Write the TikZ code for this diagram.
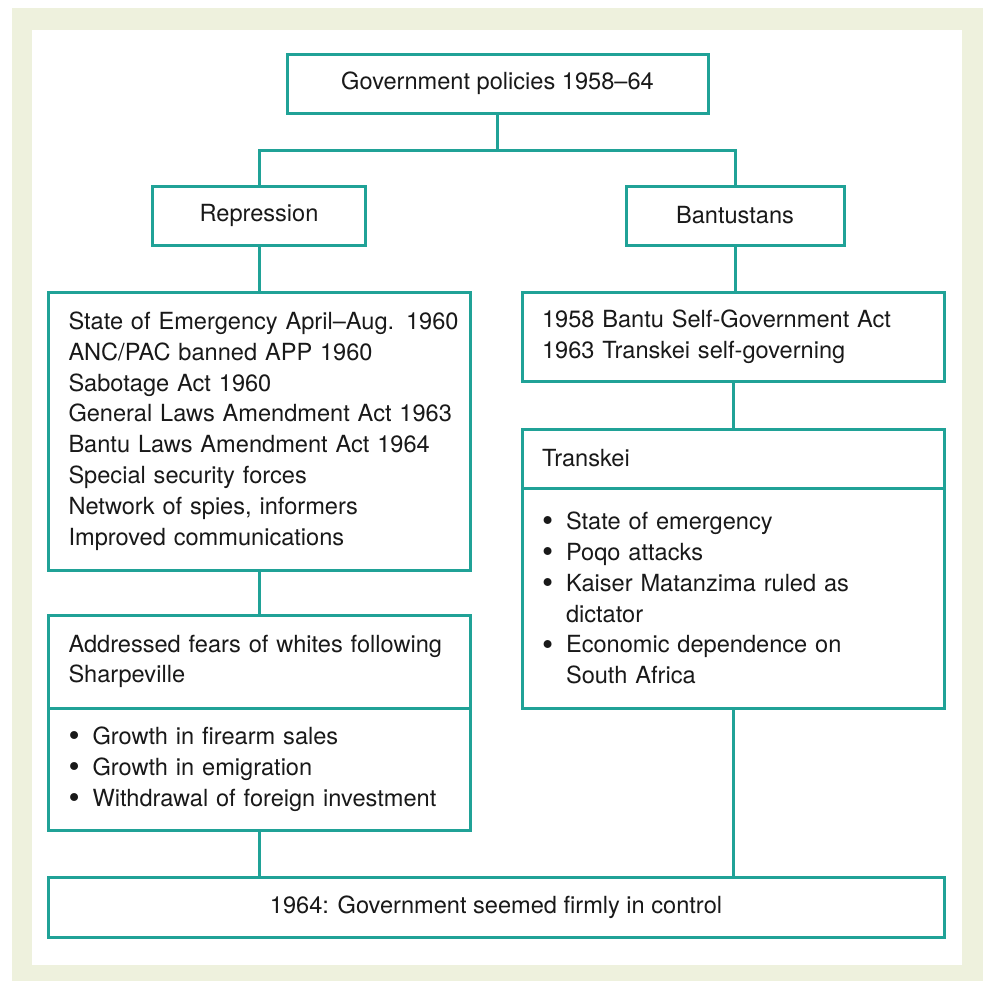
\documentclass[tikz,border=0pt]{standalone}
\usepackage{fontspec}
\usepackage{graphicx}
\setmainfont{TeX Gyre Heros}
\usetikzlibrary{positioning}

\definecolor{boxline}{RGB}{32,162,151}
\definecolor{panelbg}{RGB}{238,241,221}
\definecolor{txt}{RGB}{25,25,25}
\newcommand{\blt}{\makebox[12pt][l]{\raisebox{-0.1em}{\scalebox{1.35}{\textbullet}}}}
\newcommand{\cnt}{\hspace*{12pt}}

\begin{document}
\begin{tikzpicture}[x=0.5pt, y=-0.5pt,
  box/.style={draw=boxline, line width=1.5pt, fill=white, text=txt, outer sep=0pt,
    inner xsep=10pt, inner ysep=0pt, minimum height=29.5pt,
    font=\fontsize{11.8}{15.4}\selectfont},
  listbox/.style={box, text width=191pt, align=left},
  link/.style={draw=boxline, line width=1.5pt}]
\useasboundingbox (0,0) rectangle (983,981);
% page and panel
\fill[panelbg] (12,8) rectangle (983,981);
\fill[white] (32,30) rectangle (962,965);

% top
\node[box, minimum width=210.5pt] (gov) at (497.5,83.5) {Government policies 1958--64};
\node[box, minimum width=106.5pt] (rep) at (259,215.5) {Repression};
\node[box, minimum width=109pt] (bant) at (735,215.5) {Bantustans};

% left column
\node[listbox, minimum height=139pt] (emerg) at (259.5,431) {\mbox{State of Emergency April--Aug. 1960}\\
ANC/PAC banned APP 1960\\
Sabotage Act 1960\\
\mbox{General Laws Amendment Act 1963}\\
Bantu Laws Amendment Act 1964\\
Special security forces\\
Network of spies, informers\\
Improved communications};
\node[listbox, minimum height=46.5pt] (fearsHead) at (259.5,661.5) {\mbox{Addressed fears of whites following}\\
Sharpeville};
\node[listbox, minimum height=61pt, below=0pt of fearsHead] (fearsBody) {\blt Growth in firearm sales\\
\blt Growth in emigration\\
\blt \mbox{Withdrawal of foreign investment}};

% right column
\node[listbox, minimum height=44.5pt] (selfgov) at (733,336.5) {1958 Bantu Self-Government Act\\
1963 Transkei self-governing};
\node[listbox] (transkeiHead) at (733,458.5) {Transkei};
\node[listbox, minimum height=110pt, below=0pt of transkeiHead] (transkeiBody) {\blt State of emergency\\
\blt Poqo attacks\\
\blt Kaiser Matanzima ruled as\\
\cnt dictator\\
\blt Economic dependence on\\
\cnt South Africa};

% bottom
\node[box, minimum width=448pt, minimum height=30pt] (final) at (496,907) {1964: Government seemed firmly in control};

% connectors
\coordinate (split) at (497.5,150);
\draw[link] (gov.south) -- (split);
\draw[link] (rep.north) |- (split) -| (bant.north);
\draw[link] (rep.south) -- (rep.south |- emerg.north);
\draw[link] (bant.south) -- (bant.south |- selfgov.north);
\draw[link] (selfgov.south) -- (transkeiHead.north);
\draw[link] (emerg.south) -- (fearsHead.north);
\draw[link] (fearsBody.south) -- (fearsBody.south |- final.north);
\draw[link] (transkeiBody.south) -- (transkeiBody.south |- final.north);
\end{tikzpicture}
\end{document}
